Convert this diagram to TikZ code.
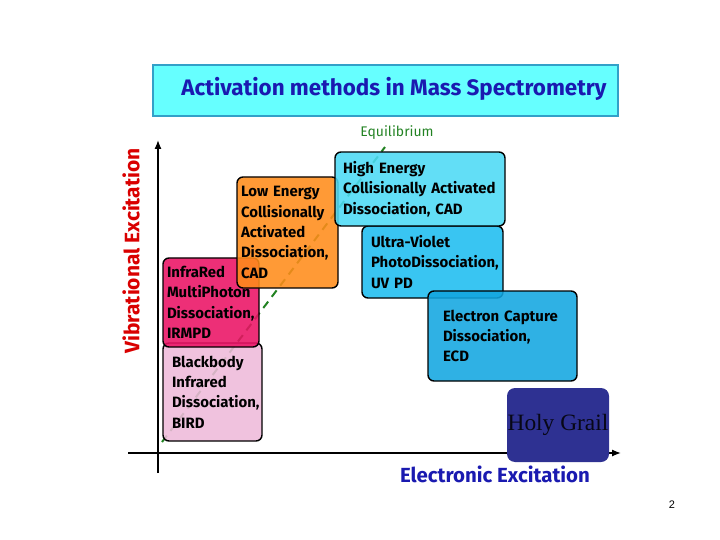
\documentclass[tikz,border=0pt]{standalone}
\usepackage{fontspec}
\setmainfont{Fira Sans}
\newfontfamily\grailfont{Liberation Serif}
\newfontfamily\pagefont{Liberation Sans}
\usetikzlibrary{arrows.meta}

\definecolor{titlefill}{RGB}{102,255,255}
\definecolor{titleline}{RGB}{51,160,200}
\definecolor{titletext}{RGB}{26,26,176}
\definecolor{birdpink}{RGB}{238,186,218}
\definecolor{irred}{RGB}{234,18,100}
\definecolor{cadorange}{RGB}{255,140,26}
\definecolor{highcyan}{RGB}{76,218,245}
\definecolor{uvblue}{RGB}{30,189,240}
\definecolor{ecdblue}{RGB}{18,166,224}
\definecolor{grailblue}{RGB}{46,49,146}
\definecolor{eqgreen}{RGB}{34,130,34}

\begin{document}
\begin{tikzpicture}[
  x=1bp, y=-1bp,
  stage/.style={draw, rounded corners=6bp, line width=1.4bp, anchor=north west, outer sep=0pt,
    align=left, inner ysep=0pt, fill opacity=0.88, text opacity=1,
    font=\fontsize{15}{20.5}\selectfont\bfseries},
  axis/.style={line width=1.3bp, -{Latex[length=9bp,width=7bp]}},
  equil/.style={eqgreen, line width=2bp, dash pattern=on 8bp off 6bp}
]
\useasboundingbox (0,0) rectangle (720,540);

% title
\node[draw=titleline, line width=2bp, fill=titlefill, minimum width=465bp, minimum height=51bp,
  anchor=north west, outer sep=0pt] (titlebox) at (153,65) {};
\node[text=titletext, font=\fontsize{22.5}{26}\selectfont\bfseries] (title) at (394,89)
  {Activation methods in Mass Spectrometry};

% axes
\coordinate (ybot) at (158,473);
\coordinate (ytop) at (158,140);
\coordinate (xleft) at (128,453);
\coordinate (xright) at (621,453);
\draw[axis] (ybot) -- (ytop);
\draw[axis] (xleft) -- (xright);
\node[rotate=90, text=red!85!black, font=\fontsize{21}{24}\selectfont\bfseries] (vib) at (131,251)
  {Vibrational Excitation};
\node[text=titletext, font=\fontsize{20.5}{24}\selectfont\bfseries] (elec) at (495,474)
  {Electronic Excitation};
\node[text=eqgreen, font=\fontsize{14}{16}\selectfont] (eqlabel) at (397,133) {Equilibrium};
\coordinate (eqtip) at (385,147);
\coordinate (eqfoot) at (162,442);

% path to equilibrium
\draw[equil] (eqfoot) -- (eqtip);

% methods
\node[stage, fill=birdpink, text width=81bp, inner xsep=9bp, minimum height=98bp] (bird) at (163,343)
  {Blackbody\\Infrared\\Dissociation,\\BIRD};
\node[stage, fill=irred, text width=88bp, inner xsep=4bp, minimum height=89bp] (irmpd) at (163,258)
  {InfraRed\\MultiPhoton\\Dissociation,\\IRMPD};
\node[stage, fill=cadorange, text width=93bp, inner xsep=4bp, minimum height=111bp] (lowcad) at (237,177)
  {Low Energy\\Collisionally\\Activated\\Dissociation,\\CAD};
\node[stage, fill=uvblue, text width=123bp, inner xsep=9bp, minimum height=72bp] (uvpd) at (362,226)
  {Ultra-Violet\\PhotoDissociation,\\UV PD};
\node[stage, fill=highcyan, text width=154bp, inner xsep=8bp, minimum height=74bp] (highcad) at (335,152)
  {High Energy\\Collisionally Activated\\Dissociation, CAD};
\node[stage, fill=ecdblue, text width=119bp, inner xsep=15bp, minimum height=90bp] (ecd) at (428,291)
  {Electron Capture\\Dissociation,\\ECD};
\node[fill=grailblue, rounded corners=8bp, anchor=north west, outer sep=0pt, inner sep=0pt,
  minimum width=102bp, minimum height=74bp, text=black!85!grailblue,
  font=\fontsize{23.5}{26}\selectfont\grailfont] (grail) at (507,388) {Holy Grail};

\node[font=\fontsize{11}{13}\selectfont\pagefont] (page) at (672,505) {2};
\end{tikzpicture}
\end{document}
